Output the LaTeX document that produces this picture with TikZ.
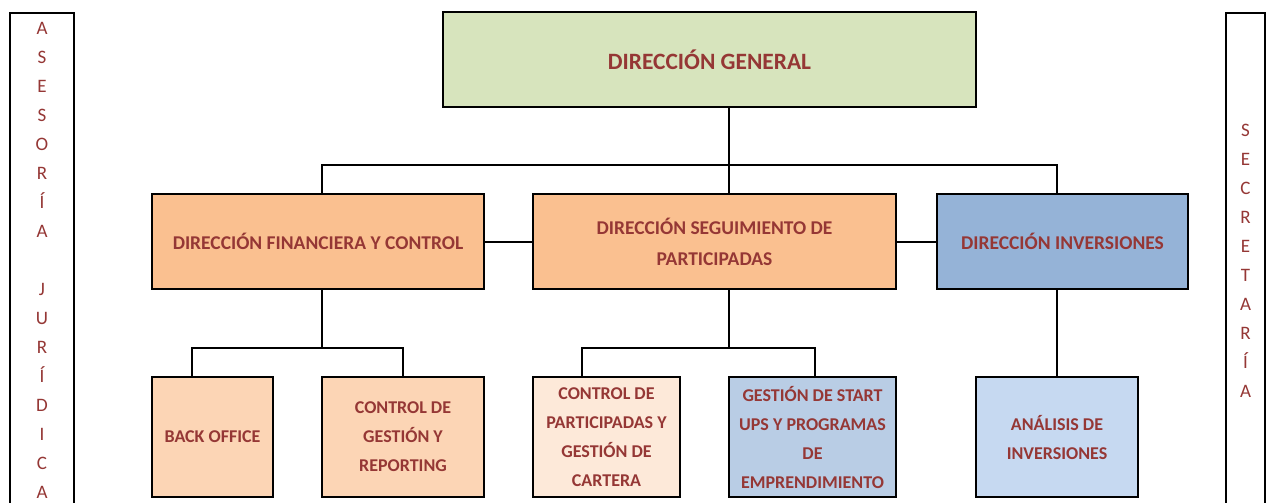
\documentclass[tikz,border=0pt]{standalone}
\usepackage{fontspec}
\setmainfont{Carlito}
\definecolor{txt}{HTML}{953735}
\definecolor{cgreen}{HTML}{D7E4BD}
\definecolor{corange}{HTML}{FAC090}
\definecolor{cblue}{HTML}{95B3D7}
\definecolor{clorange}{HTML}{FCD5B5}
\definecolor{cpeach}{HTML}{FDE9D9}
\definecolor{clblue}{HTML}{B9CDE5}
\definecolor{cpblue}{HTML}{C6D9F1}
\tikzset{
  orgbox/.style={draw=black, line width=2.2pt, inner sep=2pt, align=center, text=txt},
  lvlone/.style={orgbox, font={\fontsize{23.4}{28}\selectfont\bfseries}},
  lvltwo/.style={orgbox, font={\fontsize{19.5}{31}\selectfont\bfseries}},
  lvlthree/.style={orgbox, font={\fontsize{18}{29}\selectfont\bfseries}},
  sidebox/.style={draw=black, line width=2.2pt, inner sep=0pt},
  sidetext/.style={text=txt, align=center, inner sep=0pt, anchor=north, font={\fontsize{19}{29}\selectfont}},
  conn/.style={draw=black, line width=2pt}
}
\begin{document}
\begin{tikzpicture}[x=1pt,y=-1pt]
\clip (0,0) rectangle (1266,503);
\fill[white] (0,0) rectangle (1266,503);

% side columns
\node[sidebox, minimum width=64pt, minimum height=520pt, anchor=north] (asesoriabox) at (42,12) {};
\node[sidetext] (asesoria) at (42,22) {A\\S\\E\\S\\O\\R\\Í\\A\\\mbox{}\\J\\U\\R\\Í\\D\\I\\C\\A};
\node[sidebox, minimum width=39pt, minimum height=520pt, anchor=north] (secretariabox) at (1245.5,12) {};
\node[sidetext] (secretaria) at (1245.5,124) {S\\E\\C\\R\\E\\T\\A\\R\\Í\\A};

% level 1
\node[lvlone, fill=cgreen, minimum width=533pt, minimum height=95pt] (dg) at (709.5,59.5) {DIRECCIÓN GENERAL};

% level 2
\node[lvltwo, fill=corange, minimum width=332pt, minimum height=95pt] (fin) at (318,241.5) {DIRECCIÓN FINANCIERA Y CONTROL};
\node[lvltwo, fill=corange, minimum width=363pt, minimum height=95pt] (seg) at (714.5,241.5) {DIRECCIÓN SEGUIMIENTO DE\\PARTICIPADAS};
\node[lvltwo, fill=cblue, minimum width=251pt, minimum height=95pt] (inv) at (1062.5,241.5) {DIRECCIÓN INVERSIONES};

% level 3
\node[lvlthree, fill=clorange, minimum width=121pt, minimum height=120pt] (bo) at (212.5,437) {BACK OFFICE};
\node[lvlthree, fill=clorange, minimum width=162pt, minimum height=120pt] (cg) at (403,437) {CONTROL DE\\GESTIÓN Y\\REPORTING};
\node[lvlthree, fill=cpeach, minimum width=147pt, minimum height=120pt] (cp) at (606.5,437) {CONTROL DE\\PARTICIPADAS Y\\GESTIÓN DE\\CARTERA};
\node[lvlthree, fill=clblue, minimum width=167pt, minimum height=120pt] (gs) at (812.5,437) {GESTIÓN DE START\\UPS Y PROGRAMAS\\DE\\EMPRENDIMIENTO};
\node[lvlthree, fill=cpblue, minimum width=162pt, minimum height=120pt] (an) at (1057,437) {ANÁLISIS DE\\INVERSIONES};

% level 1 connectors
\coordinate (bL) at (322,165);
\coordinate (bM) at (729,165);
\coordinate (bR) at (1057,165);
\draw[conn] (dg.south -| bM) -- (bM);
\draw[conn] (fin.north -| bL) -- (bL) -- (bR) -- (inv.north -| bR);
\draw[conn] (bM) -- (seg.north -| bM);
\draw[conn] (fin.east) -- (seg.west);
\draw[conn] (seg.east) -- (inv.west);

% financiera connectors
\coordinate (fM) at (322,348);
\coordinate (fL) at (192,348);
\coordinate (fR) at (403,348);
\draw[conn] (fin.south -| fM) -- (fM);
\draw[conn] (bo.north -| fL) -- (fL) -- (fR) -- (cg.north -| fR);

% seguimiento connectors
\coordinate (sM) at (729,348);
\coordinate (sL) at (582,348);
\coordinate (sR) at (815,348);
\draw[conn] (seg.south -| sM) -- (sM);
\draw[conn] (cp.north -| sL) -- (sL) -- (sR) -- (gs.north -| sR);

% inversiones connector
\draw[conn] (inv.south -| an.north) -- (an.north);
\end{tikzpicture}
\end{document}
